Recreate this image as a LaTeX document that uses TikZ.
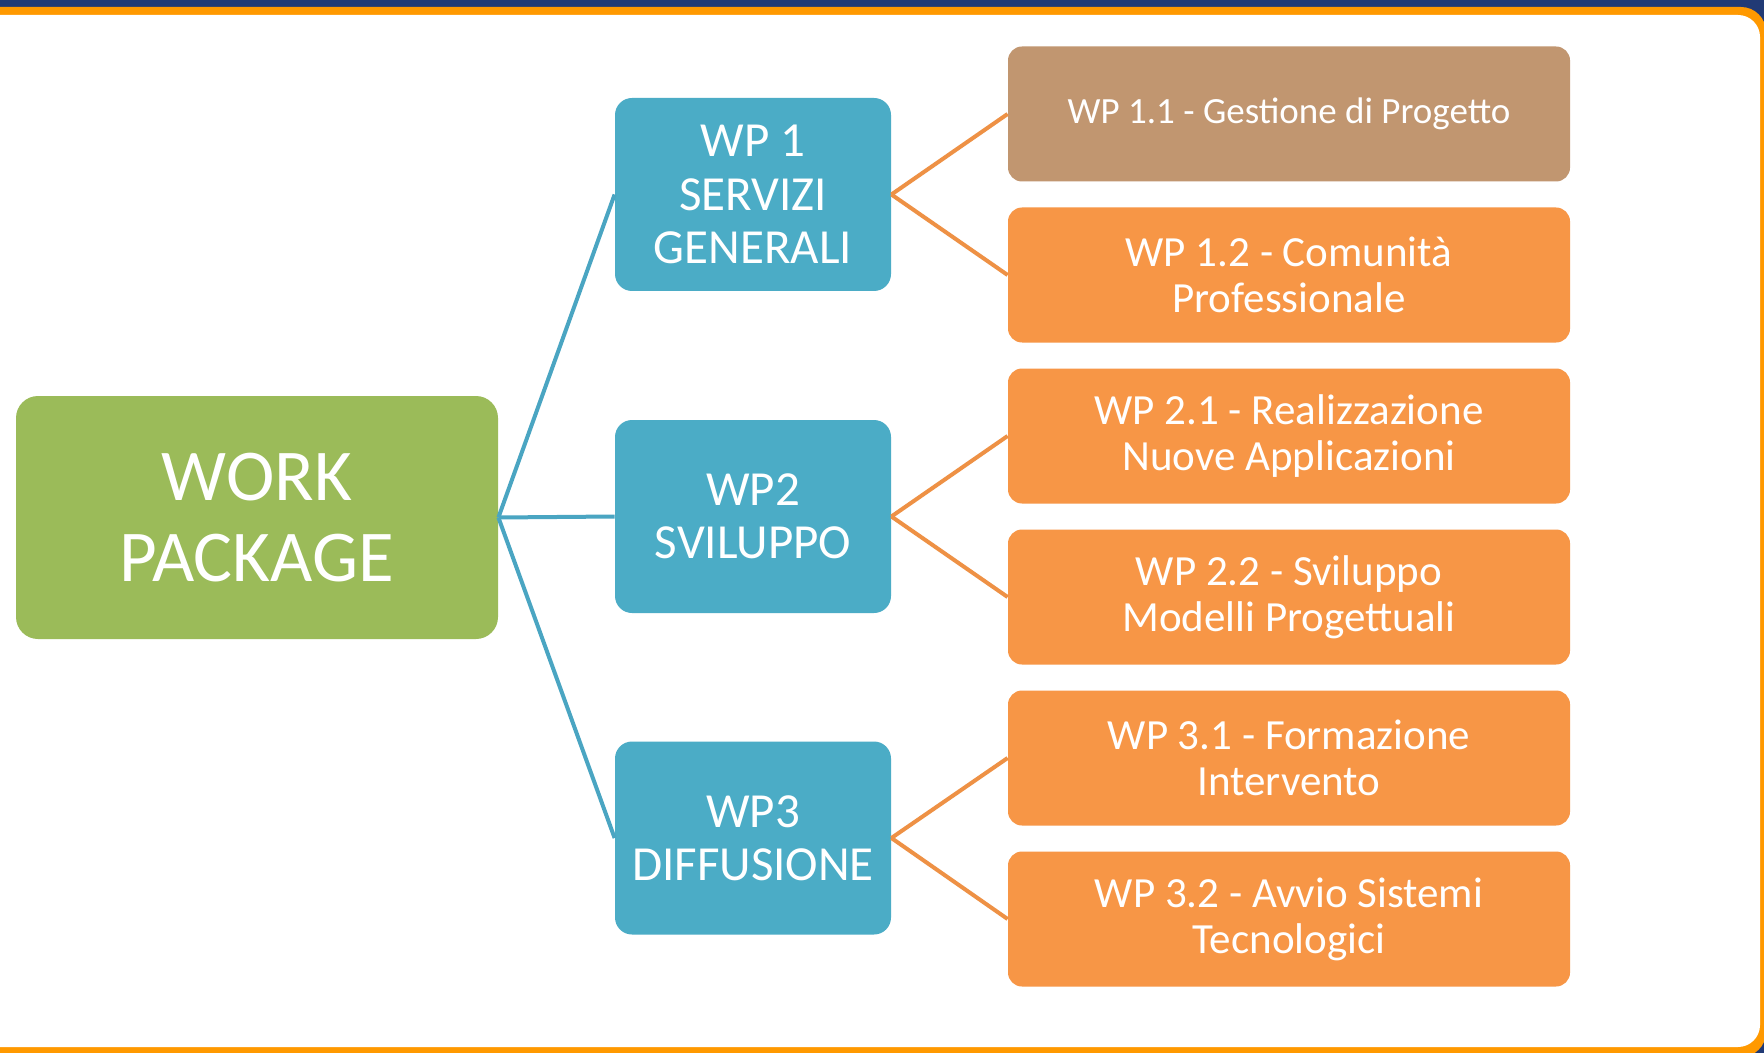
\documentclass[tikz,border=0pt]{standalone}
\usepackage{fontspec}
\setmainfont{Carlito}
\definecolor{navy}{HTML}{213A75}
\definecolor{frameorange}{HTML}{FF9900}
\definecolor{rootgreen}{HTML}{9BBB59}
\definecolor{wpblue}{HTML}{4BACC6}
\definecolor{taskorange}{HTML}{F79646}
\definecolor{taskbrown}{HTML}{C19670}
\definecolor{bluelinecol}{HTML}{4AA5C2}
\definecolor{orangelinecol}{HTML}{EE9145}
\begin{document}
\begin{tikzpicture}[x=0.5pt,y=-0.5pt,
  rootbox/.style={fill=rootgreen, rounded corners=11pt, inner sep=0pt, align=center, text=white,
    minimum width=241pt, minimum height=121.5pt, font=\fontsize{36.5}{40.5}\selectfont},
  wpbox/.style={fill=wpblue, rounded corners=8.5pt, inner sep=0pt, align=center, text=white,
    minimum width=138pt, minimum height=96.5pt, font=\fontsize{24.5}{26.7}\selectfont},
  taskbox/.style={fill=taskorange, rounded corners=7pt, inner sep=0pt, align=center, text=white,
    minimum width=281pt, minimum height=67.5pt, font=\fontsize{21.5}{23}\selectfont},
  blueline/.style={draw=bluelinecol, line width=2pt},
  orangeline/.style={draw=orangelinecol, line width=2pt}]
\useasboundingbox (0,0) rectangle (1764,1053);
\fill[navy] (0,0) rectangle (1764,1053);
\fill[frameorange, rounded corners=12.5pt] (-60,7) rectangle (1766,1057);
\fill[white, rounded corners=11pt] (-60,15) rectangle (1760,1047);

\node[rootbox] (root) at (257,517.5) {WORK\\PACKAGE};

\node[wpbox] (wp1) at (753,194.5) {WP 1\\SERVIZI\\GENERALI};
\node[wpbox] (wp2) at (753,516.5) {WP2\\SVILUPPO};
\node[wpbox] (wp3) at (753,838) {WP3\\DIFFUSIONE};

\node[taskbox, fill=taskbrown, font=\fontsize{18.5}{23}\selectfont] (t11) at (1289,114) {WP 1.1 - Gestione di Progetto};
\node[taskbox] (t12) at (1289,275) {WP 1.2 - Comunità\\Professionale};
\node[taskbox] (t21) at (1289,436) {WP 2.1 - Realizzazione\\Nuove Applicazioni};
\node[taskbox] (t22) at (1289,597) {WP 2.2 - Sviluppo\\Modelli Progettuali};
\node[taskbox] (t31) at (1289,758) {WP 3.1 - Formazione\\Intervento};
\node[taskbox] (t32) at (1289,919) {WP 3.2 - Avvio Sistemi\\Tecnologici};

\draw[blueline] (root.east) -- (wp1.west);
\draw[blueline] (root.east) -- (wp2.west);
\draw[blueline] (root.east) -- (wp3.west);

\draw[orangeline] (wp1.east) -- (t11.west);
\draw[orangeline] (wp1.east) -- (t12.west);
\draw[orangeline] (wp2.east) -- (t21.west);
\draw[orangeline] (wp2.east) -- (t22.west);
\draw[orangeline] (wp3.east) -- (t31.west);
\draw[orangeline] (wp3.east) -- (t32.west);
\end{tikzpicture}
\end{document}
